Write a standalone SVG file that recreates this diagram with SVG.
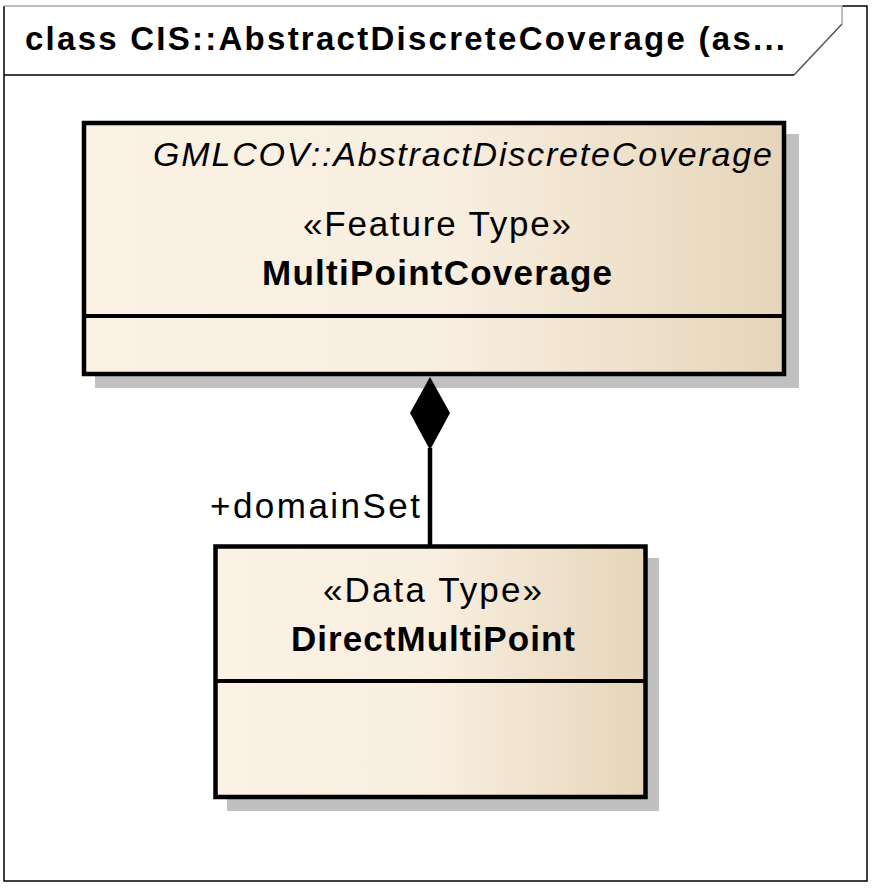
<svg xmlns="http://www.w3.org/2000/svg" width="880" height="891" viewBox="0 0 880 891">
<style>
.frame{fill:none;stroke:#000;stroke-width:1.5}
.shadow{fill:#c0c0c0}
.box{fill:url(#g);stroke:#000;stroke-width:4.5}
.sep{stroke:#000;stroke-width:4}
.t{font-family:"Liberation Sans",Arial,sans-serif;fill:#000}
.reg{font-size:35px}
.bold{font-size:35px;font-weight:bold}
.ital{font-size:34px;font-style:italic}
.conn{stroke:#000;stroke-width:4.5;fill:none}
</style>
<defs>
<linearGradient id="g" x1="0" y1="0" x2="1" y2="0">
<stop offset="0" stop-color="#fbf1e4"/>
<stop offset="0.5" stop-color="#f9efe1"/>
<stop offset="1" stop-color="#e6d5b9"/>
</linearGradient>
</defs>
<rect x="0" y="0" width="880" height="891" fill="#fff"/>
<g id="frame">
<path class="frame" d="M842,6 H867 V881 H4 V6"/>
<path d="M4,6 H842 V24" fill="none" stroke="#a8a8a8" stroke-width="1.5"/>
<path d="M842,24 L794,75" fill="none" stroke="#555" stroke-width="1.5"/>
<path d="M794,75 H4" fill="none" stroke="#000" stroke-width="1.5"/>
<text class="t" x="25" y="50" font-size="33" font-weight="bold" textLength="760" lengthAdjust="spacing">class CIS::AbstractDiscreteCoverage (as...</text>
</g>
<g id="MultiPointCoverage">
<rect class="shadow" x="95" y="134" width="704" height="254"/>
<rect class="box" x="84" y="123" width="700" height="251"/>
<line class="sep" x1="84" y1="316" x2="784" y2="316"/>
<text class="t ital" x="153" y="166" textLength="619" lengthAdjust="spacing">GMLCOV::AbstractDiscreteCoverage</text>
<text class="t reg" x="437" y="236" text-anchor="middle" textLength="268" lengthAdjust="spacing">«Feature Type»</text>
<text class="t bold" x="437" y="285" text-anchor="middle" textLength="350" lengthAdjust="spacing">MultiPointCoverage</text>
</g>
<g id="DirectMultiPoint">
<rect class="shadow" x="227" y="558" width="432" height="253"/>
<rect class="box" x="215.5" y="546.5" width="430" height="250.5"/>
<line class="sep" x1="215.5" y1="681" x2="645.5" y2="681"/>
<text class="t reg" x="432.5" y="602" text-anchor="middle" textLength="219" lengthAdjust="spacing">«Data Type»</text>
<text class="t bold" x="433" y="651" text-anchor="middle" textLength="284" lengthAdjust="spacing">DirectMultiPoint</text>
</g>
<g id="connectors">
<line class="conn" x1="430" y1="448" x2="430" y2="546"/>
<polygon points="430,377 450,413 430,450 410,413" fill="#000"/>
<text class="t reg" x="210" y="518" textLength="210" lengthAdjust="spacing">+domainSet</text>
</g>
</svg>
